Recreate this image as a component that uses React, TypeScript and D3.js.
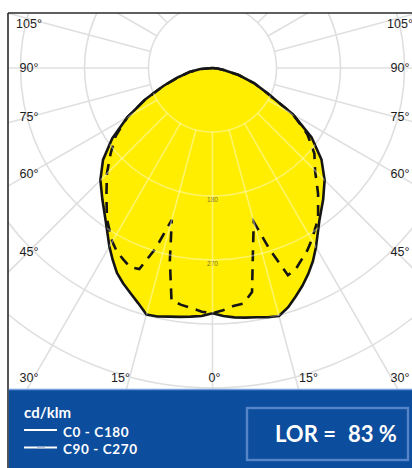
import React, { useEffect, useRef } from 'react';
import * as d3 from 'd3';

// gamma angles (deg from nadir) and intensities in cd/klm
const angles = [0, 2.5, 5, 7.5, 10, 12.5, 15, 17.5, 20, 22.5, 25, 27.5, 30, 35, 40, 45, 50, 55, 60, 65, 70, 75, 80, 85, 90];
const c0 = [345, 349, 352, 354, 356, 359, 361, 353, 342, 331, 319, 306, 291, 262, 242, 223, 200, 170, 131, 87, 62, 38, 16, 7, 0];
const c180 = [345, 349, 351, 353, 355, 358, 359, 347, 337, 328, 318, 304, 290, 262, 241, 223, 201, 172, 138, 104, 73, 50, 33, 17, 0];
const c90 = [345, 341, 336, 334, 320, 263, 224, 268, 310, 306, 297, 289, 279, 259, 231, 204, 187, 163, 131, 87, 62, 38, 16, 7, 0];
const c270 = [345, 343, 339, 336, 332, 277, 221, 266, 301, 303, 297, 291, 282, 259, 232, 210, 187, 166, 138, 104, 73, 50, 33, 17, 0];

const ringValues = [90, 180, 270, 360, 450];
const ringLabels = [180, 270];
const sideTicks = [105, 90, 75, 60, 45, 30];
const bottomTicks = [-15, 0, 15];
const legendTitle = 'cd/klm';
const legendItems = ['C0 - C180', 'C90 - C270'];
const lor = 83;

const W = 412;
const H = 468;

const App = () => {
  const ref = useRef<SVGSVGElement>(null);

  useEffect(() => {
    const svg = d3.select(ref.current);
    svg.selectAll('*').remove();

    const cx = 212.5;
    const cy = 68;
    const frameL = 8;
    const frameT = 13;
    const panelT = 389;

    const r = d3.scaleLinear().domain([0, 90]).range([0, 64]);
    const rad = (d: number) => (d * Math.PI) / 180;

    const defs = svg.append('defs');
    defs.append('clipPath').attr('id', 'plotClip')
      .append('rect').attr('x', frameL).attr('y', frameT).attr('width', W - frameL).attr('height', panelT - frameT);

    // polar curve: left half (C180 / C270) from 90 deg to nadir, then right half back up
    const radial = d3.lineRadial<[number, number]>()
      .angle(d => d[0])
      .radius(d => r(d[1]));
    const halfPts = (left: number[], right: number[]): [number, number][] => {
      const l = angles.map((a, i) => [Math.PI + rad(a), left[i]] as [number, number]).reverse();
      const rr = angles.slice(1).map((a, i) => [Math.PI - rad(a), right[i + 1]] as [number, number]);
      return l.concat(rr);
    };

    const plot = svg.append('g').attr('clip-path', 'url(#plotClip)');
    const g = plot.append('g').attr('transform', `translate(${cx},${cy})`);

    const drawGrid = (sel: any, color: string, width: number, op: number) => {
      sel.selectAll('circle.ring').data(ringValues).enter().append('circle')
        .attr('class', 'ring')
        .attr('r', (d: number) => r(d))
        .attr('fill', 'none')
        .attr('stroke', color)
        .attr('stroke-width', width)
        .attr('opacity', op);
      sel.selectAll('line.spoke').data(d3.range(0, 360, 15)).enter().append('line')
        .attr('class', 'spoke')
        .attr('x1', (d: number) => r(90) * Math.sin(rad(d)))
        .attr('y1', (d: number) => r(90) * Math.cos(rad(d)))
        .attr('x2', (d: number) => 700 * Math.sin(rad(d)))
        .attr('y2', (d: number) => 700 * Math.cos(rad(d)))
        .attr('stroke', color)
        .attr('stroke-width', width)
        .attr('opacity', op);
    };

    drawGrid(g, '#dfdfdf', 1.6, 1);

    const solidPath = radial(halfPts(c180, c0)) + 'Z';
    defs.append('clipPath').attr('id', 'shapeClip')
      .append('path').attr('d', solidPath).attr('transform', `translate(${cx},${cy})`);

    g.append('path').attr('d', solidPath).attr('fill', '#ffee00');

    const inner = plot.append('g').attr('clip-path', 'url(#shapeClip)')
      .append('g').attr('transform', `translate(${cx},${cy})`);
    drawGrid(inner, '#ffffff', 1.6, 0.4);

    g.selectAll('text.rl').data(ringLabels).enter().append('text')
      .attr('class', 'rl')
      .attr('x', 0)
      .attr('y', d => r(d) + 3)
      .attr('text-anchor', 'middle')
      .attr('dominant-baseline', 'central')
      .attr('font-family', 'Liberation Sans, Arial, sans-serif')
      .attr('font-size', 6.5)
      .attr('fill', '#7a7238')
      .text(d => d);

    g.append('path')
      .attr('d', radial(halfPts(c270, c90)))
      .attr('fill', 'none')
      .attr('stroke', '#161616')
      .attr('stroke-width', 2.6)
      .attr('stroke-dasharray', '11,8');

    g.append('path')
      .attr('d', solidPath)
      .attr('fill', 'none')
      .attr('stroke', '#161616')
      .attr('stroke-width', 2.6)
      .attr('stroke-linejoin', 'round');

    // angle labels
    const lab = svg.append('g')
      .attr('font-family', 'Liberation Sans, Arial, sans-serif')
      .attr('font-size', 12.5)
      .attr('fill', '#1c1c1c')
      .attr('text-anchor', 'middle')
      .attr('dominant-baseline', 'central');
    const sideY = (a: number) => Math.min(377.5, Math.max(frameT + 10.5, cy + 184 / Math.tan(rad(a))));
    [29, 400].forEach(x => {
      lab.selectAll(null).data(sideTicks).enter().append('text')
        .attr('x', x)
        .attr('y', d => sideY(d))
        .text(d => `${d}°`);
    });
    lab.selectAll(null).data(bottomTicks).enter().append('text')
      .attr('x', d => cx + 2 + (d / 15) * 94)
      .attr('y', 377.5)
      .text(d => `${Math.abs(d)}°`);

    // frame
    svg.append('line').attr('x1', frameL).attr('x2', W).attr('y1', frameT).attr('y2', frameT)
      .attr('stroke', '#2a2a2a').attr('stroke-width', 1.6);
    svg.append('line').attr('x1', frameL).attr('x2', frameL).attr('y1', frameT).attr('y2', H)
      .attr('stroke', '#2a2a2a').attr('stroke-width', 1.6);

    // bottom panel
    const panel = svg.append('g');
    panel.append('rect').attr('x', frameL + 0.8).attr('y', panelT).attr('width', W - frameL).attr('height', H - panelT)
      .attr('fill', '#0c4d9d');
    panel.append('line').attr('x1', frameL + 0.8).attr('x2', W).attr('y1', panelT + 0.5).attr('y2', panelT + 0.5)
      .attr('stroke', '#6f9fd8').attr('stroke-width', 1.5);

    const font = 'Lato, Open Sans, sans-serif';
    panel.append('text').attr('x', 24).attr('y', 418)
      .attr('font-family', font).attr('font-weight', 700).attr('font-size', 15)
      .attr('fill', '#fff').text(legendTitle);

    legendItems.forEach((t, i) => {
      const y = 430 + i * 17.5;
      panel.append('line').attr('x1', 24).attr('x2', 57).attr('y1', y).attr('y2', y)
        .attr('stroke', '#fff').attr('stroke-width', 2.2);
      if (i === 1) {
        panel.append('line').attr('x1', 37).attr('x2', 45).attr('y1', y + 0.6).attr('y2', y + 0.6)
          .attr('stroke', '#9fb0c8').attr('stroke-width', 1.6);
      }
      panel.append('text').attr('x', 63).attr('y', y + 6.5)
        .attr('font-family', font).attr('font-weight', 700).attr('font-size', 13.5)
        .attr('letter-spacing', 0.6)
        .attr('fill', '#fff').text(t);
    });

    panel.append('rect').attr('x', 247).attr('y', 408).attr('width', 161).attr('height', 52)
      .attr('fill', 'none').attr('stroke', '#5585c8').attr('stroke-width', 2.4);
    const lorText = panel.append('text').attr('x', 275).attr('y', 442)
      .attr('font-family', font).attr('font-weight', 700).attr('font-size', 22)
      .attr('fill', '#fff');
    lorText.append('tspan').text('LOR =');
    lorText.append('tspan').attr('dx', 12).text(`${lor} %`);
  }, []);

  return (
    <div style={{ position: 'absolute', left: 0, top: 0 }}>
      <svg ref={ref} width={W} height={H} style={{ display: 'block' }} />
    </div>
  );
};

export default App;
